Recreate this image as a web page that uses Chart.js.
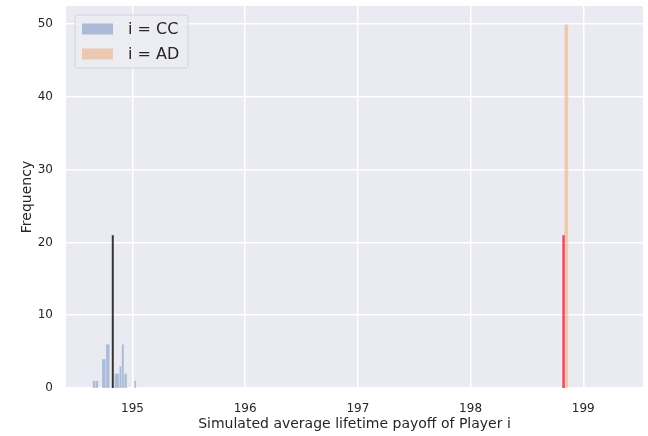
<!DOCTYPE html>
<html>
<head>
<meta charset="utf-8">
<script src="https://cdn.jsdelivr.net/npm/chart.js@4/dist/chart.umd.min.js"></script>
<style>
  html, body { margin: 0; padding: 0; background: #ffffff; }
  #wrap { width: 648px; height: 436px; }
</style>
</head>
<body>
<div id="wrap"><canvas id="histChart" width="648" height="436"></canvas></div>
<script>
// Histogram of simulated payoffs
const ccLabel = 'i = CC';
const adLabel = 'i = AD';

// bin edges and counts (CC histogram has uneven bins as read)
const ccEdges = [194.646, 194.671, 194.700, 194.729, 194.764, 194.800, 194.840, 194.883, 194.904, 194.927, 194.954, 195.016, 195.037];
const ccCounts = [1, 1, 0, 4, 6, 0, 2, 3, 6, 2, 0, 1];
const adEdges = [198.830, 198.872];
const adCounts = [50];

// mean markers
const ccMean = 194.825;
const adMean = 198.825;
const meanHeight = 21;

const xTicks = [195, 196, 197, 198, 199];
const yTicks = [0, 10, 20, 30, 40, 50];
const xRange = [194.41, 199.53];
const yRange = [0, 52.5];

const textColor = '#262626';
const fontFamily = "'DejaVu Sans', sans-serif";

function histPoints(edges, counts) {
  // outline of each bin so the fill goes through the library's scales
  const pts = [];
  counts.forEach((c, i) => {
    pts.push({ x: edges[i], y: 0 });
    pts.push({ x: edges[i], y: c });
    pts.push({ x: edges[i + 1], y: c });
    pts.push({ x: edges[i + 1], y: 0 });
  });
  return pts;
}

function vline(x, h) {
  return [{ x: x, y: 0 }, { x: x, y: h }];
}

// draw plot background behind everything
const bgPlugin = {
  id: 'plotBg',
  beforeDraw(chart) {
    const { ctx, chartArea } = chart;
    ctx.save();
    ctx.fillStyle = '#eaeaf2';
    ctx.fillRect(chartArea.left, chartArea.top, chartArea.right - chartArea.left, chartArea.bottom - chartArea.top);
    ctx.restore();
  }
};

// matplotlib-like legend inside the axes, upper left
const legendPlugin = {
  id: 'innerLegend',
  afterDatasetsDraw(chart) {
    const { ctx, chartArea } = chart;
    const items = chart.data.datasets.filter(d => d.isHist);
    const x0 = chartArea.left + 9;
    const y0 = chartArea.top + 9;
    const w = 113;
    const h = 53;
    ctx.save();
    ctx.beginPath();
    ctx.roundRect(x0, y0, w, h, 3);
    ctx.fillStyle = 'rgba(236,236,243,0.85)';
    ctx.fill();
    ctx.strokeStyle = 'rgba(204,204,210,0.8)';
    ctx.lineWidth = 1;
    ctx.stroke();
    ctx.font = '16px ' + fontFamily;
    ctx.textBaseline = 'middle';
    items.forEach((d, i) => {
      const cy = y0 + 14 + i * 25;
      ctx.fillStyle = '#eaeaf2';
      ctx.fillRect(x0 + 7, cy - 5.5, 31, 11);
      ctx.fillStyle = d.backgroundColor;
      ctx.fillRect(x0 + 7, cy - 5.5, 31, 11);
      ctx.fillStyle = textColor;
      ctx.fillText(d.label, x0 + 53, cy + 1);
    });
    ctx.restore();
  }
};

function buildChart() {
  const el = document.getElementById('histChart');
  if (!el) return;
  const ctx = el.getContext('2d');

  new Chart(ctx, {
    type: 'scatter',
    data: {
      datasets: [
        { label: ccLabel, isHist: true, data: histPoints(ccEdges, ccCounts), showLine: true, fill: 'origin',
          backgroundColor: 'rgba(76,114,176,0.4)', borderColor: 'rgba(255,255,255,0.3)', borderWidth: 0.8,
          pointRadius: 0, order: 4 },
        { label: 'cc mean', data: vline(ccMean, meanHeight), showLine: true, borderColor: 'rgba(20,20,20,0.85)',
          borderWidth: 2, pointRadius: 0, order: 3 },
        { label: adLabel, isHist: true, data: histPoints(adEdges, adCounts), showLine: true, fill: 'origin',
          backgroundColor: 'rgba(242,150,85,0.4)', borderColor: 'rgba(255,255,255,0.3)', borderWidth: 0.8,
          pointRadius: 0, order: 2 },
        { label: 'ad mean', data: vline(adMean, meanHeight), showLine: true, borderColor: 'rgba(235,35,65,0.8)',
          borderWidth: 2.5, pointRadius: 0, order: 1 }
      ]
    },
    options: {
      responsive: false,
      animation: false,
      layout: { padding: { top: 6, right: 5, left: 0, bottom: 0 } },
      plugins: { legend: { display: false }, tooltip: { enabled: false } },
      scales: {
        x: {
          type: 'linear',
          min: xRange[0],
          max: xRange[1],
          afterBuildTicks: s => { s.ticks = xTicks.map(v => ({ value: v })); },
          afterFit: s => { s.height = 48; s.paddingLeft = 0; s.paddingRight = 0; },
          border: { display: false },
          grid: { color: '#ffffff', lineWidth: 1.5, drawTicks: false },
          ticks: { padding: 14, color: textColor, font: { family: fontFamily, size: 12 }, callback: v => String(v) },
          title: { display: true, text: 'Simulated average lifetime payoff of Player i', color: textColor,
            font: { family: fontFamily, size: 14 }, padding: { top: 0, bottom: 3 } }
        },
        y: {
          type: 'linear',
          min: yRange[0],
          max: yRange[1],
          afterBuildTicks: s => { s.ticks = yTicks.map(v => ({ value: v })); },
          afterFit: s => { s.width = 66; s.paddingTop = 0; s.paddingBottom = 0; },
          border: { display: false },
          grid: { color: '#ffffff', lineWidth: 1.5, drawTicks: false },
          ticks: { padding: 13, color: textColor, font: { family: fontFamily, size: 12 } },
          title: { display: true, text: 'Frequency', color: textColor,
            font: { family: fontFamily, size: 14 }, padding: { top: 19, bottom: 0 } }
        }
      }
    },
    plugins: [bgPlugin, legendPlugin]
  });
}

// init
buildChart();
</script>
</body>
</html>
